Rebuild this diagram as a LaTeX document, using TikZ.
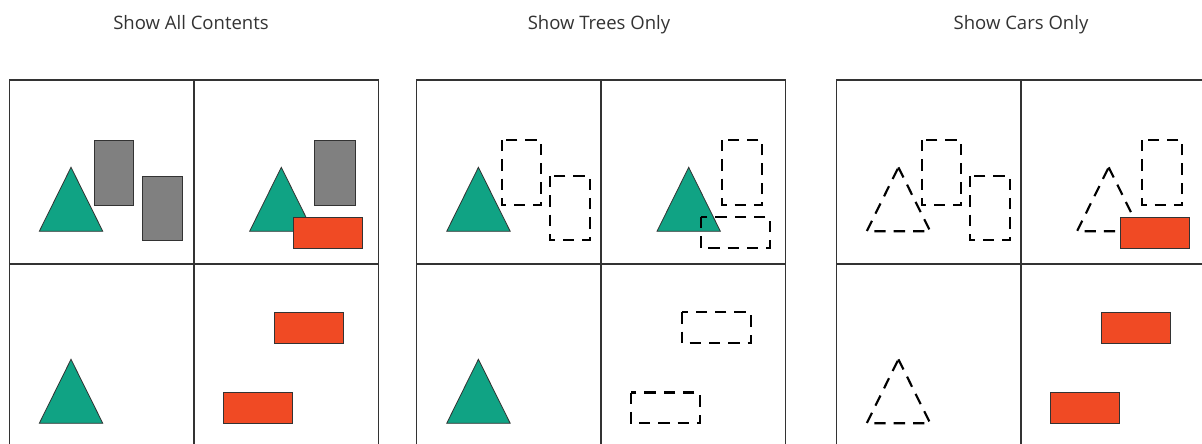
\documentclass[tikz,border=0pt]{standalone}
\usepackage{fontspec}
\setmainfont{Open Sans}

\definecolor{treeteal}{HTML}{10A384}
\definecolor{housegray}{HTML}{808080}
\definecolor{carred}{HTML}{F04A24}
\definecolor{edgegray}{HTML}{333333}
\definecolor{titlegray}{HTML}{333333}

\tikzset{
  cellframe/.style={draw=edgegray, line width=0.8pt},
  cellcross/.style={draw=edgegray, line width=1.6pt},
  tree/.style={fill=treeteal, draw=edgegray, line width=0.6pt},
  house/.style={fill=housegray, draw=edgegray, line width=0.6pt},
  car/.style={fill=carred, draw=edgegray, line width=0.6pt},
  hidden/.style={draw=black, line width=1.6pt, dash pattern=on 8.5pt off 6pt},
  title/.style={font=\fontsize{13.9}{16}\selectfont, text=titlegray, anchor=base},
}

% one panel: #1 left edge, #2 tree look, #3 house look, #4 car look
\newcommand{\drawpanel}[4]{%
  \begin{scope}[shift={(#1,0)}]
    \draw[cellframe] (0,80) rectangle (369,449);
    \draw[cellcross] (184.3,80) -- (184.3,449);
    \draw[cellcross] (0,264.4) -- (369,264.4);
    % top left cell
    \draw[#2] (61.7,167.3) -- (93.5,231.3) -- (30,231.3) -- cycle;
    \draw[#3] (85,140) rectangle (124.5,205);
    \draw[#3] (133.3,176) rectangle (173.3,240.3);
    % top right cell
    \draw[#2] (272,167.3) -- (303.7,231.3) -- (240.3,231.3) -- cycle;
    \draw[#3] (305.5,140) rectangle (345.6,205);
    \draw[#4] (284,217) rectangle (353,248);
    % bottom left cell
    \draw[#2] (61.7,359.3) -- (93.5,423.3) -- (30,423.3) -- cycle;
    % bottom right cell
    \draw[#4] (265,312.3) rectangle (334,343);
    \draw[#4] (214,392.5) rectangle (283,423);
  \end{scope}}

\begin{document}
\begin{tikzpicture}[x=0.75pt, y=-0.75pt]
\useasboundingbox (0,0) rectangle (1202,443);
\clip (0,0) rectangle (1202,443);

\node[title] (alltitle) at (191,29) {Show All Contents};
\node[title] (treetitle) at (599,29) {Show Trees Only};
\node[title] (cartitle) at (1021,29) {Show Cars Only};

\drawpanel{9.3}{tree}{house}{car}
\drawpanel{416.7}{tree}{hidden}{hidden}
\drawpanel{836.7}{hidden}{hidden}{car}
\end{tikzpicture}
\end{document}
